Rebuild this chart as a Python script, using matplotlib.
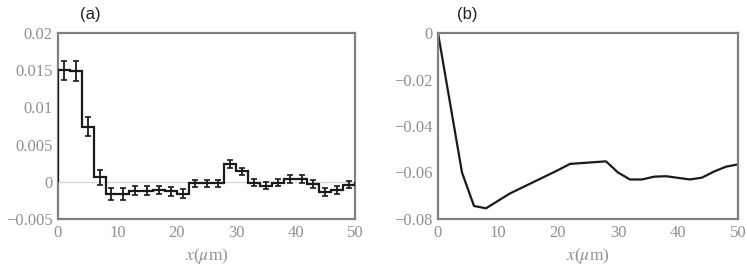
import matplotlib
matplotlib.use("Agg")
import matplotlib.pyplot as plt
import numpy as np

plt.rcParams["mathtext.fontset"] = "stix"

# Panel (a): binned step values with error bars
bin_edges = list(range(0, 52, 2))
bin_centers = list(range(1, 50, 2))
bin_values = [0.0150, 0.0149, 0.0074, 0.0006, -0.0016, -0.0016, -0.0012, -0.0012,
              -0.0011, -0.0013, -0.0016, -0.0002, -0.0002, -0.0002, 0.0024, 0.0014,
              -0.0001, -0.0005, -0.0001, 0.0004, 0.0004, -0.0003, -0.0014, -0.0011,
              -0.0004]
bin_errors = [0.0013, 0.0013, 0.0013, 0.0010, 0.0008, 0.0008, 0.0006, 0.0006,
              0.0006, 0.0006, 0.0006, 0.0005, 0.0005, 0.0005, 0.0005, 0.0005,
              0.0005, 0.0005, 0.0005, 0.0005, 0.0005, 0.0005, 0.0005, 0.0005,
              0.0005]

# Panel (b): line values
line_x = [0, 4, 6, 8, 12, 16, 20, 22, 28, 30, 32, 34, 36, 38, 40, 42, 44, 46, 48, 50]
line_y = [0.0, -0.0600, -0.0744, -0.0754, -0.0690, -0.0640, -0.0590, -0.0563,
          -0.0552, -0.0600, -0.0630, -0.0630, -0.0618, -0.0616, -0.0623, -0.0630,
          -0.0622, -0.0596, -0.0575, -0.0565]

a_yticks = [-0.005, 0, 0.005, 0.01, 0.015, 0.02]
a_yticklabels = ["\u22120.005", "0", "0.005", "0.01", "0.015", "0.02"]
b_yticks = [-0.08, -0.06, -0.04, -0.02, 0]
b_yticklabels = ["\u22120.08", "\u22120.06", "\u22120.04", "\u22120.02", "0"]
xticks = [0, 10, 20, 30, 40, 50]

W, H = 747, 267
fig = plt.figure(figsize=(W / 100, H / 100), dpi=100)

frame_color = "#808080"
tick_color = "#909090"
serif = ["Liberation Serif", "DejaVu Serif"]

def style(ax):
    for s in ax.spines.values():
        s.set_color(frame_color)
        s.set_linewidth(1.6)
    ax.tick_params(length=0, pad=4, colors=tick_color, labelsize=12)
    for lab in ax.get_xticklabels() + ax.get_yticklabels():
        lab.set_fontfamily(serif)
    ax.set_xlabel(r"$x$($\mu$m)", fontsize=12.5, color=tick_color,
                  family=serif, labelpad=4)

# Panel a
ax1 = fig.add_axes([58 / W, 1 - 219 / H, (355 - 58) / W, (219 - 33) / H])
ax1.axhline(0, color="#d8d8d8", lw=1.0, zorder=1)
ax1.stairs(bin_values, bin_edges, color="#1a1a1a", lw=1.6, zorder=3)
ax1.errorbar(bin_centers, bin_values, yerr=bin_errors, fmt="none",
             ecolor="#1a1a1a", elinewidth=1.3, capsize=2.3, capthick=1.2, zorder=4)
ax1.set_xlim(0, 50)
ax1.set_ylim(-0.005, 0.02)
ax1.set_xticks(xticks)
ax1.set_xticklabels([str(t) for t in xticks])
ax1.set_yticks(a_yticks)
ax1.set_yticklabels(a_yticklabels)
style(ax1)

# Panel b
ax2 = fig.add_axes([438 / W, 1 - 219 / H, (738 - 438) / W, (219 - 33) / H])
ax2.plot(line_x, line_y, color="#1a1a1a", lw=1.6)
ax2.set_xlim(0, 50)
ax2.set_ylim(-0.08, 0)
ax2.set_xticks(xticks)
ax2.set_xticklabels([str(t) for t in xticks])
ax2.set_yticks(b_yticks)
ax2.set_yticklabels(b_yticklabels)
style(ax2)

fig.text(90 / W, 1 - 14 / H, "(a)", fontsize=12, color="#222222",
         family="Liberation Sans", ha="center", va="center")
fig.text(467 / W, 1 - 14 / H, "(b)", fontsize=12, color="#222222",
         family="Liberation Sans", ha="center", va="center")

fig.savefig("out.png", dpi=100)
